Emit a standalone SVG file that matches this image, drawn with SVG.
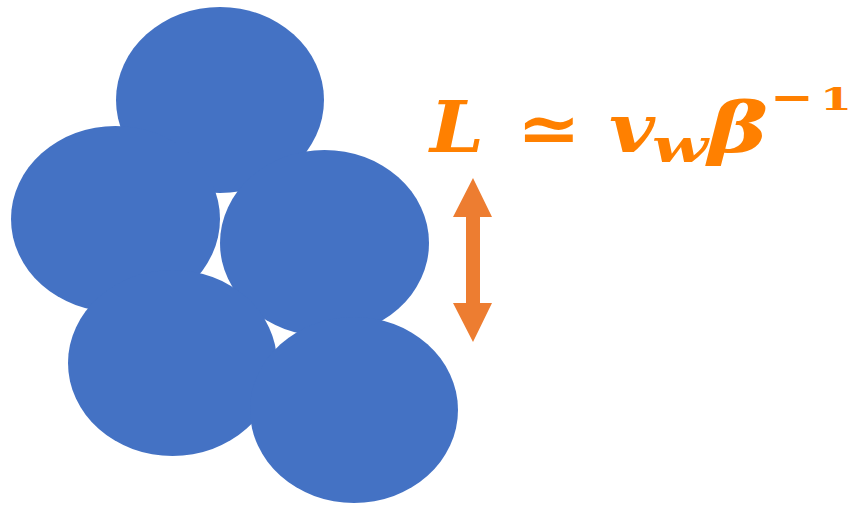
<svg xmlns="http://www.w3.org/2000/svg" width="856" height="507" viewBox="0 0 856 507">
<style>
.cell{fill:#4472C4;}
.arr{fill:#ED7D31;}
.m{fill:#FF8000;font-family:"DejaVu Serif",serif;font-weight:bold;}
.it{font-style:italic;}
</style>
<rect width="856" height="507" fill="#FFFFFF"/>
<g id="bubbles">
<g id="b1"><ellipse class="cell" cx="220" cy="100" rx="104" ry="93"/></g>
<g id="b2"><ellipse class="cell" cx="115.5" cy="219" rx="104.5" ry="93"/></g>
<g id="b3"><ellipse class="cell" cx="324.5" cy="243" rx="104.5" ry="93"/></g>
<g id="b4"><ellipse class="cell" cx="172.5" cy="363" rx="104.5" ry="93"/></g>
<g id="b5"><ellipse class="cell" cx="354" cy="410" rx="104" ry="93"/></g>
</g>
<g id="connectors">
<polygon class="arr" points="473,178 492,217 480,217 480,303 492,303 473,342 453,303 466,303 466,217 453,217"/>
</g>
<g id="label">
<text class="m it" x="430" y="152" font-size="71" textLength="54" lengthAdjust="spacingAndGlyphs">L</text>
<text class="m" x="517" y="152" font-size="68" textLength="64" lengthAdjust="spacingAndGlyphs">≃</text>
<text class="m it" x="609" y="152" font-size="67" textLength="46" lengthAdjust="spacingAndGlyphs">v</text>
<text class="m it" x="652" y="162" font-size="46" textLength="56" lengthAdjust="spacingAndGlyphs">w</text>
<text class="m it" x="708" y="152" font-size="70" textLength="60" lengthAdjust="spacingAndGlyphs">β</text>
<text class="m" x="770" y="112" font-size="44" textLength="44" lengthAdjust="spacingAndGlyphs">−</text>
<text class="m" x="820" y="110" font-size="32" textLength="32" lengthAdjust="spacingAndGlyphs">1</text>
</g>
</svg>
